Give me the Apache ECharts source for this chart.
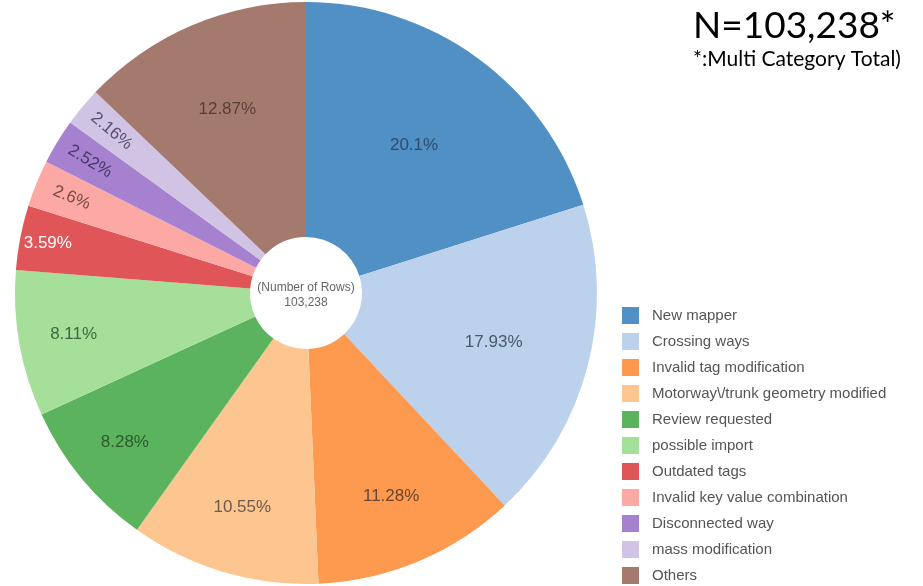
<!DOCTYPE html>
<html>
<head>
<meta charset="utf-8">
<script src="https://cdn.jsdelivr.net/npm/echarts@6/dist/echarts.min.js"></script>
<style>
  html, body { margin: 0; padding: 0; background: #fff; }
  #chart { width: 923px; height: 586px; }
</style>
</head>
<body>
<div id="chart"></div>
<script>
// categories in drawing order (clockwise from 12 o'clock)
const categories = [
  'New mapper',
  'Crossing ways',
  'Invalid tag modification',
  'Motorway\\/trunk geometry modified',
  'Review requested',
  'possible import',
  'Outdated tags',
  'Invalid key value combination',
  'Disconnected way',
  'mass modification',
  'Others'
]
// share of rows, percent
const shares = [20.1, 17.93, 11.28, 10.55, 8.28, 8.11, 3.59, 2.6, 2.52, 2.16, 12.87]

const sliceColors = [
  '#5090c5', '#bcd2ec', '#fd9a4f', '#fdc590', '#5cb35e', '#a5df9a',
  '#df5558', '#fca9a6', '#a681cf', '#d0c3e3', '#a57a6e'
]
const labelColors = [
  '#2f4c68', '#4a5868', '#6a4630', '#6e5a48', '#2c5a2e', '#3e6a40',
  '#ffffff', '#7a4848', '#453868', '#585070', '#5a3e36'
]
// thin slices get their label turned along the radius
const radialLabels = [false, false, false, false, false, false, false, true, true, true, false]
// how far out each label sits (px from centre)
const labelRadius = [180, 191, 217, 221, 232, 233, 260, 250, 250, 250, 197]

const cx = 306, cy = 293, r0 = 56, r1 = 291
const total = shares.reduce((a, b) => a + b, 0)

// offset from ECharts' default inside spot (mid radius) out to labelRadius;
// rotated labels take their offset in the text's own frame
let acc = 0
const labelOffsets = shares.map((v, i) => {
  const mid = (acc + v / 2) / total * Math.PI * 2
  acc += v
  const extra = labelRadius[i] - (r0 + r1) / 2
  if (radialLabels[i]) return [-extra, 0]
  return [extra * Math.sin(mid), -extra * Math.cos(mid)]
})

const chart = echarts.init(document.getElementById('chart'))

const option = {
  animation: false,
  legend: {
    orient: 'vertical',
    left: 617,
    top: 302,
    height: 300,
    itemWidth: 17,
    itemHeight: 17,
    itemGap: 9,
    icon: 'rect',
    textStyle: {
      fontFamily: 'Liberation Sans',
      fontSize: 15,
      color: '#555',
      padding: [0, 0, 0, 8]
    },
    data: categories
  },
  graphic: [
    {
      type: 'text',
      x: 693,
      y: 26,
      style: {
        text: 'N=103,238*',
        fontFamily: 'Lato',
        fontSize: 37,
        fill: '#000',
        verticalAlign: 'middle'
      }
    },
    {
      type: 'text',
      x: 693,
      y: 59,
      style: {
        text: '*:Multi Category Total)',
        fontFamily: 'Lato',
        fontSize: 21,
        fill: '#000',
        verticalAlign: 'middle'
      }
    },
    {
      type: 'text',
      x: cx,
      y: cy + 2,
      z: 10,
      style: {
        text: '(Number of Rows)\n103,238',
        align: 'center',
        verticalAlign: 'middle',
        fontFamily: 'Liberation Sans',
        fontSize: 12,
        lineHeight: 15,
        fill: '#666'
      }
    }
  ],
  series: [
    {
      type: 'pie',
      center: [cx, cy],
      radius: [r0, r1],
      startAngle: 90,
      clockwise: true,
      avoidLabelOverlap: false,
      itemStyle: { borderWidth: 0 },
      label: {
        show: true,
        position: 'inside',
        formatter: '{c}%',
        fontFamily: 'Liberation Sans',
        fontSize: 17
      },
      labelLine: { show: false },
      emphasis: { disabled: true },
      data: categories.map((name, i) => ({
        name,
        value: shares[i],
        itemStyle: { color: sliceColors[i] },
        label: {
          color: labelColors[i],
          rotate: radialLabels[i] ? 'radial' : 0,
          offset: labelOffsets[i]
        }
      }))
    }
  ]
}

chart.setOption(option)
</script>
</body>
</html>
